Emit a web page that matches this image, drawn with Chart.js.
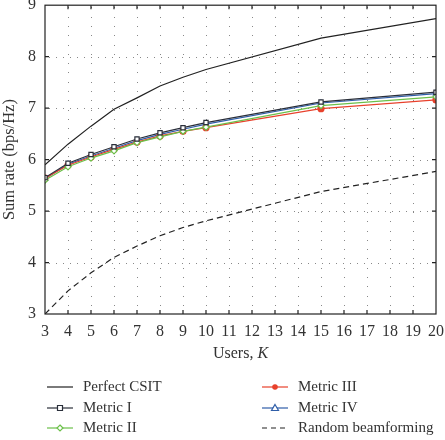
<!DOCTYPE html>
<html>
<head>
<meta charset="utf-8">
<script src="https://cdn.jsdelivr.net/npm/chart.js@4"></script>
<style>
  body { margin: 0; background: #fff; }
  #wrap { width: 445px; height: 440px; position: relative; }
</style>
</head>
<body>
<div id="wrap"><canvas id="rateChart"></canvas></div>
<script>
// data
var users = [3, 4, 5, 6, 7, 8, 9, 10, 15, 20];
var perfectCsit = [5.9, 6.3, 6.65, 6.98, 7.2, 7.43, 7.6, 7.75, 8.36, 8.74];
var metricI   = [5.65, 5.93, 6.1, 6.25, 6.4, 6.52, 6.62, 6.72, 7.12, 7.31];
var metricII  = [5.6, 5.86, 6.03, 6.17, 6.33, 6.44, 6.55, 6.63, 7.05, 7.22];
var metricIII = [5.64, 5.89, 6.05, 6.2, 6.34, 6.46, 6.55, 6.62, 6.99, 7.16];
var metricIV  = [5.63, 5.91, 6.07, 6.22, 6.37, 6.49, 6.59, 6.69, 7.1, 7.28];
var randomBf  = [3.0, 3.45, 3.8, 4.1, 4.32, 4.52, 4.68, 4.81, 5.38, 5.77];
var yTicks = [3, 4, 5, 6, 7, 8, 9];

var serif = "'Liberation Serif', 'DejaVu Serif', serif";

function pts(ys) {
  return users.map(function(u, i) { return { x: u, y: ys[i] }; });
}

function series(label, ys, color, shape, filled, dash) {
  return {
    label: label,
    data: pts(ys),
    borderColor: color,
    backgroundColor: filled ? color : '#fff',
    borderWidth: 1.2,
    borderDash: dash || [],
    pointStyle: shape || false,
    pointRadius: shape ? 3 : 0,
    pointBorderWidth: 1.2,
    pointBorderColor: color,
    tension: 0
  };
}

// frame, dotted grid and inward ticks
var framePlugin = {
  id: 'frame',
  beforeDatasetsDraw: function(chart) {
    var ctx = chart.ctx, a = chart.chartArea;
    var xs = chart.scales.x, ys = chart.scales.y;
    ctx.save();
    ctx.fillStyle = '#888';
    for (var k = 4; k <= 19; k++) {
      var px = Math.round(xs.getPixelForValue(k));
      for (var py = a.bottom - 9; py > a.top + 2; py -= 9.3) ctx.fillRect(px, Math.round(py), 1, 1);
    }
    for (var j = 4; j <= 8; j++) {
      var yy = Math.round(ys.getPixelForValue(j));
      for (var qx = a.left + 4; qx < a.right - 2; qx += 7) ctx.fillRect(Math.round(qx), yy, 1, 1);
    }
    ctx.restore();
  },
  afterDatasetsDraw: function(chart) {
    var ctx = chart.ctx, a = chart.chartArea;
    var xs = chart.scales.x, ys = chart.scales.y;
    ctx.save();
    ctx.strokeStyle = '#222';
    ctx.lineWidth = 1.2;
    ctx.strokeRect(a.left, a.top, a.right - a.left, a.bottom - a.top);
    ctx.beginPath();
    for (var k = 4; k <= 19; k++) {
      var px = xs.getPixelForValue(k);
      ctx.moveTo(px, a.bottom); ctx.lineTo(px, a.bottom - 4);
      ctx.moveTo(px, a.top); ctx.lineTo(px, a.top + 4);
    }
    for (var j = 4; j <= 8; j++) {
      var py = ys.getPixelForValue(j);
      ctx.moveTo(a.left, py); ctx.lineTo(a.left + 4, py);
      ctx.moveTo(a.right, py); ctx.lineTo(a.right - 4, py);
    }
    ctx.stroke();

    // x title with italic K
    ctx.fillStyle = '#333';
    ctx.textBaseline = 'middle';
    ctx.font = '16px ' + serif;
    var t1 = 'Users, ';
    var w1 = ctx.measureText(t1).width;
    ctx.font = 'italic 16px ' + serif;
    var w2 = ctx.measureText('K').width;
    var cx = (a.left + a.right) / 2;
    var x0 = cx - (w1 + w2) / 2;
    ctx.font = '16px ' + serif;
    ctx.textAlign = 'left';
    ctx.fillText(t1, x0, 354);
    ctx.font = 'italic 16px ' + serif;
    ctx.fillText('K', x0 + w1, 354);

    // legend, two columns
    var slots = [[47, 387], [47, 408], [47, 428], [262, 387], [262, 408], [262, 428]];
    ctx.font = '15px ' + serif;
    chart.data.datasets.forEach(function(ds, n) {
      var sx = slots[n][0], sy = slots[n][1];
      ctx.save();
      ctx.strokeStyle = ds.borderColor;
      ctx.lineWidth = 1.2;
      ctx.setLineDash(ds.borderDash.length ? [5, 4] : []);
      ctx.beginPath();
      ctx.moveTo(sx, sy); ctx.lineTo(sx + 26, sy);
      ctx.stroke();
      ctx.setLineDash([]);
      if (ds.pointStyle) {
        var mx = sx + 13;
        ctx.fillStyle = ds.backgroundColor;
        ctx.beginPath();
        if (ds.pointStyle === 'rect') ctx.rect(mx - 2.5, sy - 2.5, 5, 5);
        else if (ds.pointStyle === 'circle') ctx.arc(mx, sy, 2.2, 0, Math.PI * 2);
        else if (ds.pointStyle === 'rectRot') { ctx.moveTo(mx, sy - 3); ctx.lineTo(mx + 3, sy); ctx.lineTo(mx, sy + 3); ctx.lineTo(mx - 3, sy); ctx.closePath(); }
        else if (ds.pointStyle === 'triangle') { ctx.moveTo(mx, sy - 3.5); ctx.lineTo(mx + 3.5, sy + 2.5); ctx.lineTo(mx - 3.5, sy + 2.5); ctx.closePath(); }
        ctx.fill(); ctx.stroke();
      }
      ctx.restore();
      ctx.fillStyle = '#333';
      ctx.textAlign = 'left';
      ctx.fillText(ds.label, sx + 36, sy);
    });
    ctx.restore();
  }
};

new Chart(document.getElementById('rateChart').getContext('2d'), {
  type: 'line',
  data: {
    datasets: [
      series('Perfect CSIT', perfectCsit, '#222', false, false),
      series('Metric I', metricI, '#2a2f3a', 'rect', false),
      series('Metric II', metricII, '#6cc04a', 'rectRot', false),
      series('Metric III', metricIII, '#e8412c', 'circle', true),
      series('Metric IV', metricIV, '#2f5ea8', 'triangle', false),
      series('Random beamforming', randomBf, '#222', false, false, [6, 4])
    ]
  },
  options: {
    responsive: true,
    maintainAspectRatio: false,
    animation: false,
    layout: { padding: { top: 5, right: 9, left: 0, bottom: 0 } },
    plugins: {
      legend: { display: false },
      tooltip: { enabled: false }
    },
    scales: {
      x: {
        type: 'linear',
        min: 3, max: 20,
        grid: { display: false, drawTicks: false },
        border: { display: false },
        ticks: { stepSize: 1, color: '#333', font: { family: serif, size: 16 }, padding: 8, maxRotation: 0 },
        afterFit: function(scale) { scale.height = 126; scale.paddingRight = 0; scale.paddingLeft = 0; }
      },
      y: {
        min: 3, max: 9,
        afterBuildTicks: function(scale) { scale.ticks = yTicks.map(function(v) { return { value: v }; }); },
        grid: { display: false, drawTicks: false },
        border: { display: false },
        ticks: { color: '#333', font: { family: serif, size: 16 }, padding: 9 },
        title: { display: true, text: 'Sum rate (bps/Hz)', color: '#333', font: { family: serif, size: 16.5 }, padding: 0 },
        afterFit: function(scale) { scale.width = 45; scale.paddingTop = 2; scale.paddingBottom = 0; }
      }
    }
  },
  plugins: [framePlugin]
});
</script>
</body>
</html>
